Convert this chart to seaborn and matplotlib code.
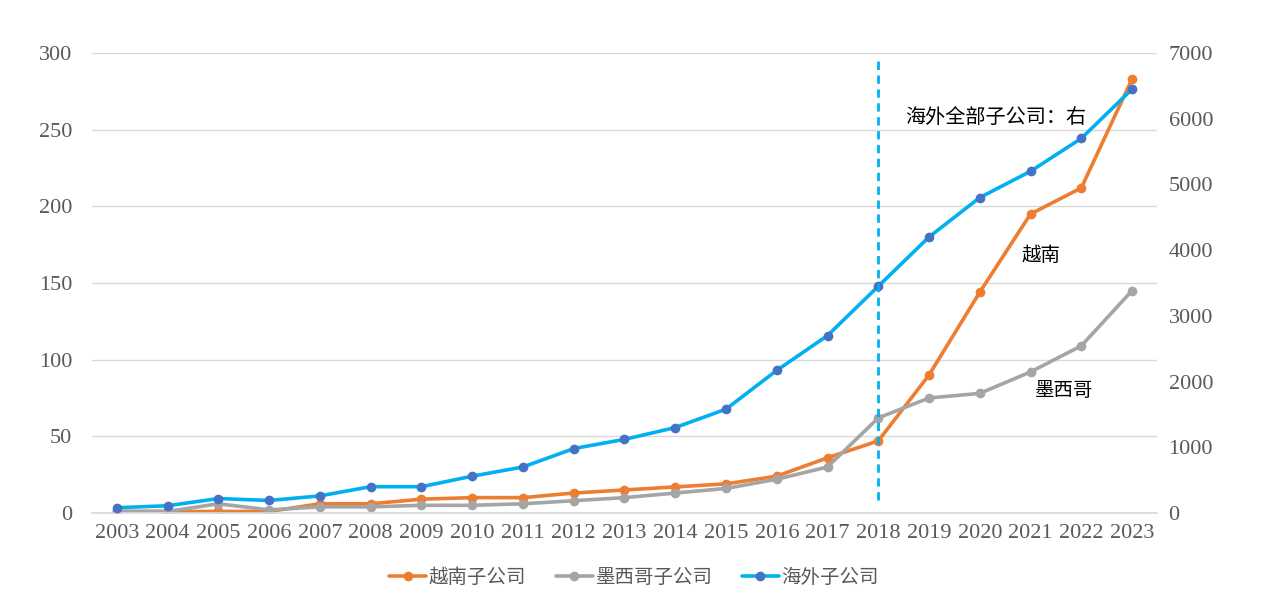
import numpy as np
import pandas as pd
import seaborn as sns
from matplotlib import pyplot as plt

years = list(range(2003, 2024))
vietnam = [1, 1, 1, 1, 6, 6, 9, 10, 10, 13, 15, 17, 19, 24, 36, 47, 90, 144, 195, 212, 283]
mexico = [1, 1, 6, 2, 4, 4, 5, 5, 6, 8, 10, 13, 16, 22, 30, 62, 75, 78, 92, 109, 145]
overseas = [80, 110, 220, 190, 260, 400, 400, 560, 700, 980, 1120, 1300, 1580, 2170, 2700,
            3450, 4200, 4800, 5200, 5700, 6450]

left_ticks = [0, 50, 100, 150, 200, 250, 300]
right_ticks = [0, 1000, 2000, 3000, 4000, 5000, 6000, 7000]

sns.set_theme(style="white")
plt.rcParams['font.family'] = ['Liberation Serif', 'Noto Sans CJK SC']

df = pd.DataFrame({'year': years, 'vn': vietnam, 'mx': mexico, 'all': overseas})

fig = plt.figure(figsize=(12.68, 6.03), dpi=100)
ax = fig.add_axes([0.0722, 0.1493, 0.8406, 0.7628])
ax2 = ax.twinx()

tick_color = '#595959'
cjk = ['Noto Sans CJK SC', 'DejaVu Sans']

sns.lineplot(data=df, x='year', y='vn', ax=ax, color='#ED7D31', lw=2.6,
             marker='o', markersize=7, markeredgewidth=0, label='越南子公司', legend=False)
sns.lineplot(data=df, x='year', y='mx', ax=ax, color='#A5A5A5', lw=2.6,
             marker='o', markersize=7, markeredgewidth=0, label='墨西哥子公司', legend=False)
sns.lineplot(data=df, x='year', y='all', ax=ax2, color='#00B0F0', lw=2.6,
             marker='o', markersize=7, markeredgewidth=0, markerfacecolor='#4472C4',
             label='海外子公司', legend=False)

ax.set_xlim(2002.5, 2023.5)
ax.set_ylim(0, 300)
ax2.set_ylim(0, 7000)
ax.set_xticks(years)
ax.set_yticks(left_ticks)
ax2.set_yticks(right_ticks)
ax.set_xlabel('')
ax.set_ylabel('')
ax2.set_ylabel('')

ax.grid(axis='y', color='#D9D9D9', lw=1)
ax.set_axisbelow(True)
for a in (ax, ax2):
    for s in a.spines.values():
        s.set_visible(False)
ax.spines['bottom'].set_visible(True)
ax.spines['bottom'].set_color('#D9D9D9')

ax.tick_params(axis='x', labelsize=16, colors=tick_color, length=0, pad=8)
ax.tick_params(axis='y', labelsize=16, colors=tick_color, length=0, pad=14)
ax2.tick_params(axis='y', labelsize=16, colors=tick_color, length=0, pad=8)

# 2018 divider
ax2.plot([2018, 2018], [200, 6940], ls=(0, (3, 2)), color='#00B0F0', lw=2)

ax2.text(2018.53, 6026, '海外全部子公司：右', fontsize=14.5, family=cjk, color='black', va='center')
ax.text(2020.83, 168, '越南', fontsize=14, family=cjk, color='black', va='center')
ax.text(2021.09, 80, '墨西哥', fontsize=14, family=cjk, color='black', va='center')

h1, l1 = ax.get_legend_handles_labels()
h2, l2 = ax2.get_legend_handles_labels()
fig.legend(h1 + h2, l1 + l2, loc='center', bbox_to_anchor=(0.5, 0.043), ncol=3,
           frameon=False, prop={'family': cjk, 'size': 14}, labelcolor='#595959',
           handlelength=1.9, columnspacing=1.5, handletextpad=0.15)

fig.savefig('out.png', dpi=100)
